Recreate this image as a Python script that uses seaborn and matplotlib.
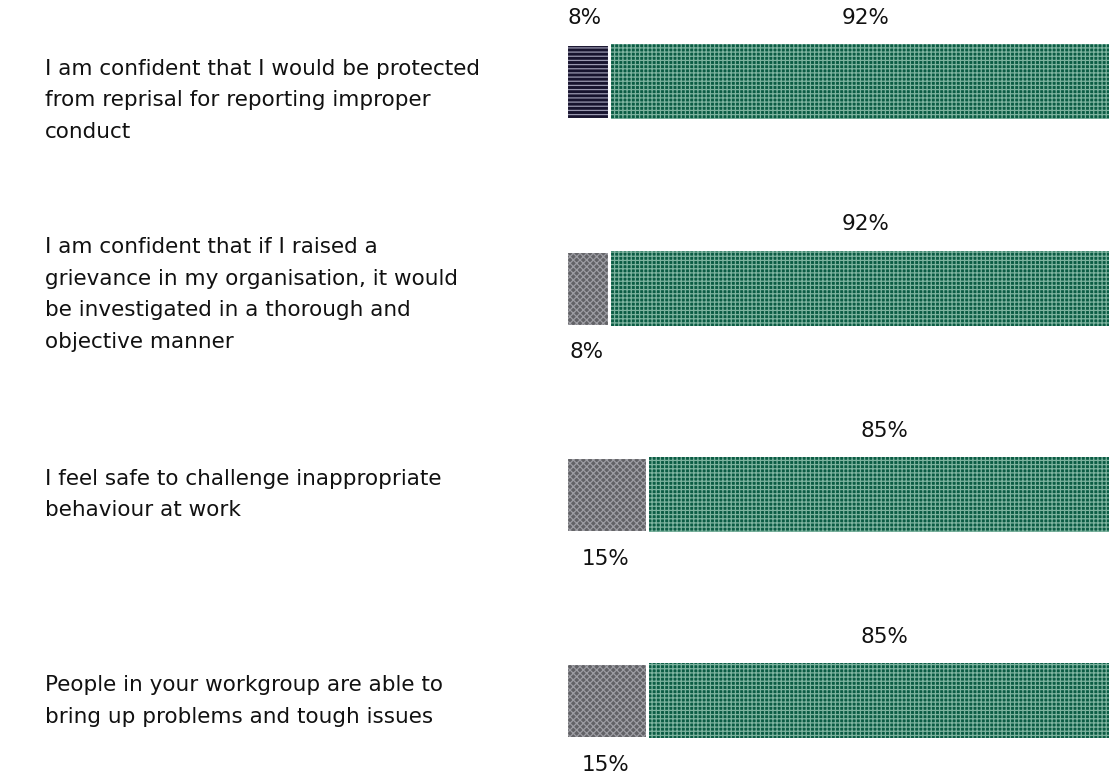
import matplotlib
matplotlib.use("Agg")
import matplotlib.pyplot as plt
import matplotlib.transforms as mtransforms
import seaborn as sns
import pandas as pd

questions = [
    "I am confident that I would be protected\nfrom reprisal for reporting improper\nconduct",
    "I am confident that if I raised a\ngrievance in my organisation, it would\nbe investigated in a thorough and\nobjective manner",
    "I feel safe to challenge inappropriate\nbehaviour at work",
    "People in your workgroup are able to\nbring up problems and tough issues",
]
negative = [8, 8, 15, 15]
positive = [92, 92, 85, 85]
neg_labels = ["8%", "8%", "15%", "15%"]
pos_labels = ["92%", "92%", "85%", "85%"]

sns.set_theme(style="white")
plt.rcParams["font.family"] = ["DejaVu Sans"]
plt.rcParams["hatch.linewidth"] = 0.9

df = pd.DataFrame({"q": questions, "neg": negative, "pos": positive})
df["total"] = df["neg"] + df["pos"]

fig = plt.figure(figsize=(11.09, 7.75), dpi=100)
ax = fig.add_axes([566 / 1109, 0.0, 1 - 566 / 1109, 1.0])

sns.barplot(data=df, y="q", x="total", orient="h", color="#0b5c44",
            width=0.364, ax=ax, saturation=1, linewidth=0)
n_green = len(ax.patches)
sns.barplot(data=df, y="q", x="neg", orient="h", color="#6b6b70",
            width=0.364, ax=ax, saturation=1, linewidth=0)

patches = ax.patches
for p in patches[:n_green]:
    p.set_hatch("++++")
    p.set_edgecolor("#7db39f")
    p.set_linewidth(0)
for i, p in enumerate(patches[n_green:]):
    if i == 0:
        p.set_facecolor("#17132e")
        p.set_hatch("----")
        p.set_edgecolor("#9a98b0")
    else:
        p.set_facecolor("#626266")
        p.set_hatch("xxxxx")
        p.set_edgecolor("#9c9ca2")
    p.set_linewidth(0)

# white separator between segments
sns.barplot(data=df, y="q", x="neg", orient="h", fill=False,
            width=0.364, ax=ax, linewidth=2.2, edgecolor="white")

ax.set_xlim(0, 100)
ax.set_ylim(3.359, -0.397)
ax.set_xlabel("")
ax.set_ylabel("")
ax.set_xticks([])
ax.set_yticks([])
for s in ax.spines.values():
    s.set_visible(False)

fs = 15.5
trans = mtransforms.blended_transform_factory(fig.transFigure, ax.transData)
label_shift = [0.09, 0.03, 0.0, 0.0]
for i in range(len(questions)):
    ax.text(45 / 1109, i + label_shift[i], questions[i], transform=trans,
            ha="left", va="center", fontsize=fs, color="#111111", linespacing=1.72)
    ax.text(negative[i] + positive[i] / 2 + 1.2, i - 0.31, pos_labels[i],
            ha="center", va="center", fontsize=fs, color="#111111")
    if i == 0:
        ax.text(negative[i] / 2 - 0.6, i - 0.31, neg_labels[i],
                ha="center", va="center", fontsize=fs, color="#111111")
    else:
        ax.text(negative[i] / 2 - 0.3, i + 0.31, neg_labels[i],
                ha="center", va="center", fontsize=fs, color="#111111")

fig.savefig("out.png", dpi=100, facecolor="white")
